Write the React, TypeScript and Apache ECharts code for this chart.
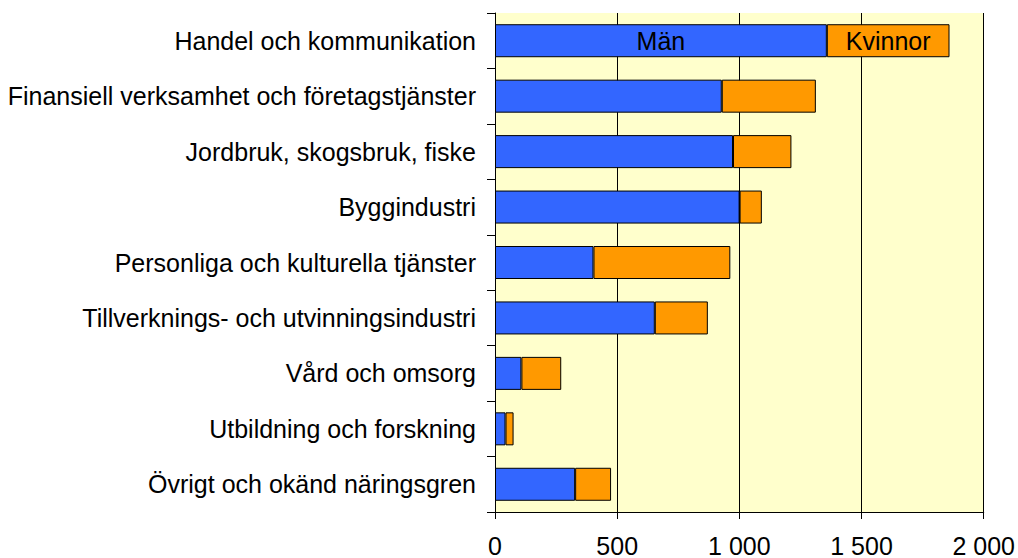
import React, { useEffect, useRef } from "react";
import * as echarts from "echarts";

const categories = [
  "Handel och kommunikation",
  "Finansiell verksamhet och företagstjänster",
  "Jordbruk, skogsbruk, fiske",
  "Byggindustri",
  "Personliga och kulturella tjänster",
  "Tillverknings- och utvinningsindustri",
  "Vård och omsorg",
  "Utbildning och forskning",
  "Övrigt och okänd näringsgren",
];
const man = [1358, 928, 974, 1001, 403, 654, 108, 43, 328];
const kvinnor = [502, 385, 239, 91, 560, 217, 163, 33, 147];
const seriesNames = ["Män", "Kvinnor"];

const FONT = "'Liberation Sans', Arial, sans-serif";

export default function App() {
  const ref = useRef<HTMLDivElement>(null);
  useEffect(() => {
    if (!ref.current) return;
    const chart = echarts.init(ref.current, undefined, { renderer: "svg" });
    const fmt = (v: number) => String(v).replace(/\B(?=(\d{3})+(?!\d))/g, " ");
    const inBarLabel = (name: string) => ({
      show: true,
      position: "inside",
      formatter: name,
      color: "#000",
      fontSize: 25,
      fontFamily: FONT,
    });
    chart.setOption({
      animation: false,
      backgroundColor: "#fff",
      grid: {
        left: 495,
        top: 13,
        width: 492,
        height: 500,
        show: true,
        backgroundColor: "#FFFFCC",
        borderWidth: 0,
      },
      xAxis: {
        type: "value",
        min: 0,
        max: 2000,
        interval: 500,
        axisLine: { show: true, lineStyle: { color: "#000", width: 1 } },
        axisTick: { show: true, length: 7, lineStyle: { color: "#000" } },
        splitLine: { show: true, lineStyle: { color: "#000", width: 1 } },
        axisLabel: {
          color: "#000",
          fontSize: 25,
          fontFamily: FONT,
          margin: 21,
          formatter: (v: number) => fmt(v),
        },
      },
      yAxis: {
        type: "category",
        data: categories,
        inverse: true,
        axisLine: { show: true, lineStyle: { color: "#000", width: 1 } },
        axisTick: { show: true, length: 8, alignWithLabel: false, lineStyle: { color: "#000" } },
        axisLabel: {
          color: "#000",
          fontSize: 25,
          fontFamily: FONT,
          margin: 19,
        },
      },
      series: [
        {
          name: seriesNames[0],
          type: "bar",
          stack: "total",
          barWidth: 33,
          itemStyle: { color: "#3366FF", borderColor: "#000", borderWidth: 1 },
          data: man.map((v, i) =>
            i === 0 ? { value: v, label: inBarLabel(seriesNames[0]) } : v
          ),
        },
        {
          name: seriesNames[1],
          type: "bar",
          stack: "total",
          barWidth: 33,
          itemStyle: { color: "#FF9900", borderColor: "#000", borderWidth: 1 },
          data: kvinnor.map((v, i) =>
            i === 0 ? { value: v, label: inBarLabel(seriesNames[1]) } : v
          ),
        },
      ],
    });
    return () => chart.dispose();
  }, []);
  return (
    <div
      ref={ref}
      style={{ position: "fixed", left: 0, top: 0, width: 1018, height: 558 }}
    />
  );
}
